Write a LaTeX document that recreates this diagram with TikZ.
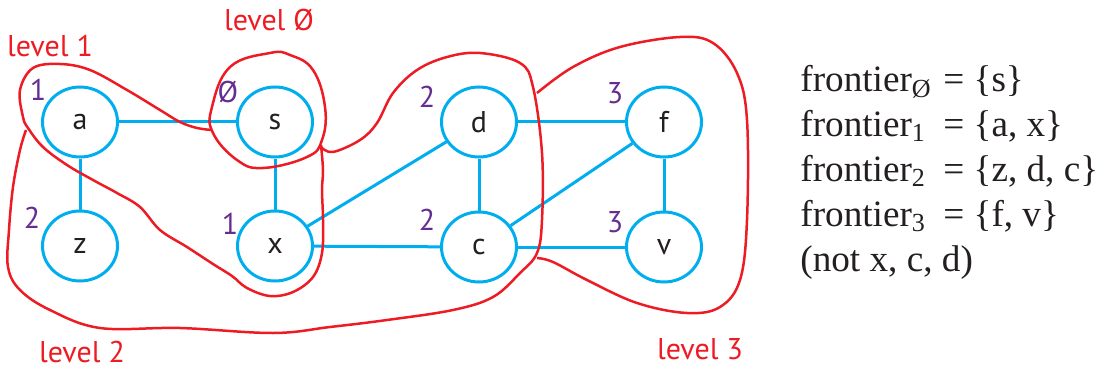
\documentclass[tikz,border=0pt]{standalone}
\usepackage{fontspec}
\usetikzlibrary{positioning,shapes.geometric}
\newfontfamily\labelfont{PT Sans}
\newfontfamily\timesfont{Liberation Serif}
\definecolor{edgeblue}{RGB}{0,174,239}
\definecolor{levelred}{RGB}{237,28,36}
\definecolor{levelpurple}{RGB}{102,45,145}
\definecolor{inkgray}{RGB}{35,31,32}

\begin{document}
\begin{tikzpicture}[x=0.5pt,y=-0.5pt,on grid,
vertex/.style ={ellipse ,draw=edgeblue ,line width=1.5pt ,
 minimum width =37.5pt ,minimum height =35pt ,inner sep=0pt ,
 text=inkgray ,font=\labelfont\fontsize{15}{18}\selectfont},
dist/.style ={text=levelpurple ,inner sep=0pt ,font=\labelfont\fontsize{15}{18}\selectfont},
tag/.style ={text=levelred ,inner sep=0pt ,font=\labelfont\fontsize{15}{18}\selectfont},
link/.style ={draw=edgeblue ,line width=1.5pt},
blob/.style ={draw=levelred ,line width=1.25pt ,line join=round}]
\useasboundingbox (0,0) rectangle (1097,369);
% graph
\node[vertex] (a) at (80,122) {a};
\node[vertex] (s) [right=97.5pt of a] {s};
\node[vertex] (z) [below=62pt of a] {z};
\node[vertex] (x) [below=62pt of s] {x};
\node[vertex] (d) [right=102pt of s] {d};
\node[vertex] (c) [below=62.5pt of d] {c};
\node[vertex] (f) [right=92.5pt of d] {f};
\node[vertex] (v) [below=62.5pt of f] {v};
\path[link] (a) -- (s);
\path[link] (a) -- (z);
\path[link] (s) -- (x);
\path[link] (x) -- (d);
\path[link] (x) -- (c);
\path[link] (d) -- (c);
\path[link] (d) -- (f);
\path[link] (c) -- (f);
\path[link] (c) -- (v);
\path[link] (f) -- (v);
% distances
\node[dist] (da) [above left=16pt and 21pt of a] {1};
\node[dist] (dz) [above left=14pt and 24pt of z] {2};
\node[dist] (ds) [above left=15pt and 23.5pt of s] {Ø};
\node[dist] (dx) [above left=11pt and 22.5pt of x] {1};
\node[dist] (dd) [above left=12.5pt and 26pt of d] {2};
\node[dist] (dc) [above left=13.5pt and 26pt of c] {2};
\node[dist] (df) [above left=14.5pt and 24.5pt of f] {3};
\node[dist] (dv) [above left=12.5pt and 24.5pt of v] {3};
% levels
\draw[blob] plot[smooth cycle,tension=0.7] coordinates {(270,53) (230,67) (212,107) (213,133)
 (237,160) (263,168) (307,157) (322,140) (325,107) (313,70) (290,55)};
\draw[blob] plot[smooth,tension=0.6] coordinates {(212,130) (197,128) (180,122) (160,110)
 (127,90) (90,70) (60,64) (33,68) (20,90) (23,117) (28,128) (43,147) (67,165) (93,180)
 (117,193) (140,207) (160,230) (187,247) (213,264) (232,276) (247,288) (270,296) (293,292)
 (313,277) (322,253) (323,220) (322,190) (323,170) (321,145)};
\draw[blob] plot[smooth,tension=0.6] coordinates {(26,130) (20,150) (13,187) (9,230) (8,267)
 (20,290) (50,310) (100,328) (180,328) (273,333) (330,327) (387,320) (453,310) (493,297)
 (520,273) (537,253) (542,220) (542,153) (533,87) (520,63) (480,53) (447,57) (417,70)
 (393,93) (377,123) (360,140) (333,152) (321,147)};
\draw[blob] plot[smooth,tension=0.6] coordinates {(537,93) (573,67) (620,47) (680,37)
 (713,43) (737,73) (747,120) (747,220) (740,280) (720,307) (687,313) (637,303) (587,280)
 (553,262) (537,258)};
\node[tag] (l0) at (269,20) {level Ø};
\node[tag] (l1) at (50,46) {level 1};
\node[tag] (l2) at (82,352) {level 2};
\node[tag] (l3) at (700,349) {level 3};
% frontiers
\node[anchor=north west ,inner sep=0pt ,align=left ,text=inkgray ,
 font=\timesfont\fontsize{18.6}{22.5}\selectfont] (fr) at (800,65)
 {\makebox[71.5pt][l]{frontier\textsubscript{Ø}}= \{s\}\\
  \makebox[71.5pt][l]{frontier\textsubscript{1}}= \{a, x\}\\
  \makebox[71.5pt][l]{frontier\textsubscript{2}}= \{z, d, c\}\\
  \makebox[71.5pt][l]{frontier\textsubscript{3}}= \{f, v\}\\
  (not x, c, d)};
\end{tikzpicture}
\end{document}
